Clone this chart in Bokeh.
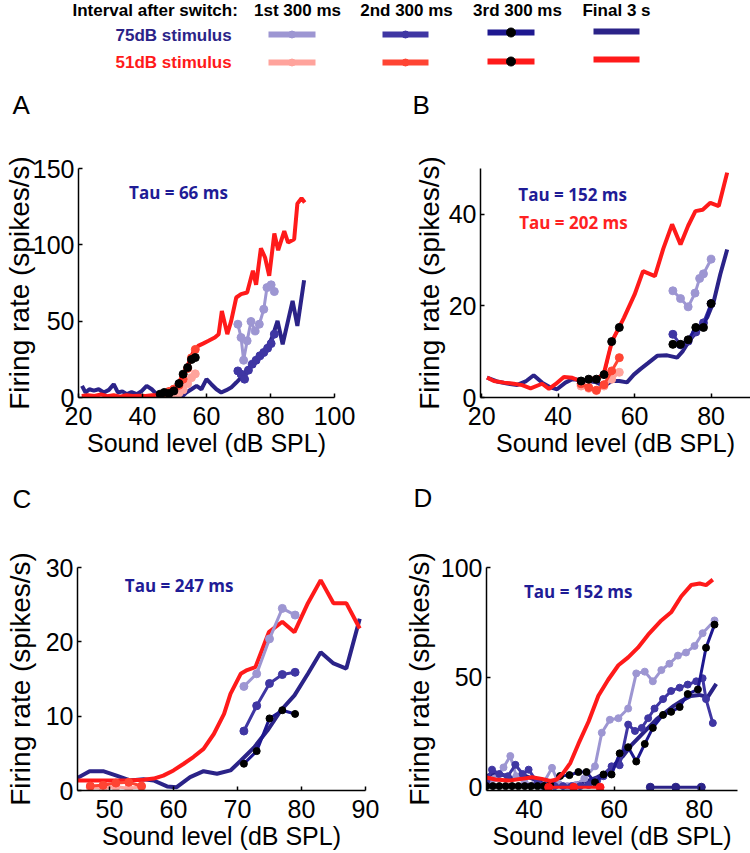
from bokeh.plotting import figure
from bokeh.models import Range1d, Label, FixedTicker
from bokeh.layouts import column, row
from bokeh.embed import file_html
from bokeh.resources import INLINE
from bokeh.core.properties import value

# ---------------- data ----------------
# Panel A
A_x_fin51 = [21, 23, 25, 27, 29, 31, 33, 35, 37, 39, 41, 43, 45, 47, 49, 51, 52.7, 54.3, 55.8, 57.4, 58.9, 60.5,
             62.6, 63.8, 64.8, 66.5, 67.7, 69.3, 70.8, 72.7, 74.5, 75.5, 77.0, 78.3, 79.6, 81.2, 82.4, 84.3, 85.5,
             87.4, 88.4, 89.7, 90.7]
A_y_fin51 = [1.0, 1.5, 1.0, 2.0, 0.8, 1.5, 0.5, 1.5, 1.0, 1.2, 1.0, 1.5, 1.5, 3.0, 4.5, 8.5, 15, 22, 29.5, 33.8,
             35.3, 37, 39.3, 41.5, 56.7, 41.5, 50, 65.5, 67.7, 68.8, 83, 73.8, 97.8, 91.7, 79.7, 107.4, 96.5, 109,
             101.5, 103.7, 127, 130.5, 127.7]
A_x_fin75 = [21.1, 22.2, 23.4, 24.8, 26.3, 27.9, 29.5, 31.0, 32.3, 33.7, 35.1, 36.6, 38.2, 39.8, 41.3, 42.9, 44.4,
             46, 47.5, 49, 50.6, 52.2, 53.7, 55.3, 56.9, 58.4, 60.0, 61.5, 63.1, 64.6, 66.2, 67.7, 69.3, 70.8, 72.9,
             75.0, 77.1, 79.1, 80.7, 82.2, 83.8, 86.9, 88.4, 90.5]
A_y_fin75 = [7.6, 3.3, 5.4, 4.5, 5.4, 3.3, 5.0, 8.7, 3.3, 4.0, 2.2, 3.5, 2.2, 4.3, 7.6, 5.4, 2.2, 1.5, 2.5, 2.0,
             1.0, 0.3, 3.3, 5.4, 7.6, 5.4, 12, 8.7, 5.4, 3.3, 4.8, 6.5, 9.8, 13, 18.5, 24, 28.4, 32.7, 40.4, 50.2,
             34.9, 63.3, 46.9, 76.8]
A_x_1st75 = [69.8, 70.8, 71.6, 72.7, 73.9, 75.2, 76.5, 77.9, 78.9, 80.2, 81.2]
A_y_1st75 = [48, 39.3, 24.4, 37.1, 49.8, 43.6, 48, 57.8, 72, 73.8, 69.4]
A_x_2nd75 = [69.8, 70.8, 71.9, 73.1, 74.3, 75.5, 76.7, 77.9, 79.1, 80.2, 81.2]
A_y_2nd75 = [17.4, 15.3, 12, 17.9, 21.8, 24.4, 27.3, 29.5, 32.3, 35.3, 41.5]
A_x_51 = [45.5, 46.8, 48.3, 49.8, 51.4, 52.7, 54.1, 55.3, 56.5]
A_y_1st51 = [0, 0.5, 1, 1.5, 3, 5, 9, 13, 15.5]
A_y_2nd51 = [1.5, 2.5, 4, 5.5, 8, 12, 19, 26, 31.5]
A_y_3rd51 = [2.2, 3.3, 2.6, 4.3, 9.1, 15.3, 19.6, 24.9, 26.2]

# Panel B
B_x_fin51 = [21.4, 23.2, 25.8, 28.4, 30.6, 32.8, 35.8, 37.6, 39.3, 41.5, 43.7, 45.8, 48.4, 50.6, 51.9, 53.2,
             54.1, 55.9, 57.2, 60.0, 62.2, 65.3, 67.5, 69.8, 72.0, 74.0, 75.9, 77.8, 79.8, 82.0, 84.2]
B_y_fin51 = [4.35, 3.6, 3.25, 3.0, 2.7, 2.0, 3.0, 1.9, 2.9, 4.5, 4.3, 3.6, 4.0, 4.35, 5.0, 9.4, 12.3, 15.25,
             17.4, 22.5, 27.6, 26.5, 32.5, 37.8, 33.4, 37.5, 40.7, 41.0, 42.5, 41.8, 49.1]
B_x_fin75 = [21.4, 24.0, 26.7, 29.3, 31.5, 33.6, 35.8, 38.0, 39.7, 41.9, 43.7, 46, 48, 50, 52, 54, 56, 58, 59.8,
             61.5, 63.5, 65.9, 68.5, 71.1, 72.5, 74.2, 76.3, 79, 80.7, 82.4, 84.2]
B_y_fin75 = [4.35, 3.5, 3.05, 2.75, 3.5, 4.85, 3.25, 2.2, 1.8, 3.25, 4.0, 3.8, 3.6, 3.3, 2.5, 3.6, 3.6, 3.3, 5.0,
             6.2, 7.5, 9.1, 9.2, 8.7, 10, 12.3, 14.5, 17.5, 21, 26.9, 32.3]
B_x_1st75 = [70, 72, 74, 75.8, 77, 78, 80]
B_y_1st75 = [23.3, 21.6, 19.8, 22.8, 26, 27, 30.2]
B_x_75 = [70, 72, 74, 76, 78, 80]
B_y_2nd75 = [13.8, 11.5, 12.3, 14.3, 16.3, 20.5]
B_y_3rd75 = [11.6, 11.6, 12.6, 15.3, 15.3, 20.5]
B_x_51 = [46, 48, 50, 52, 54, 56]
B_y_1st51 = [2.5, 2.0, 1.5, 2.5, 4.0, 5.5]
B_y_2nd51 = [3.0, 2.2, 1.6, 2.8, 5.8, 8.7]
B_y_3rd51 = [3.6, 4.0, 4.0, 5.0, 12.2, 15.3]

# Panel C
C_x_fin51 = [44.8, 47.4, 50, 52.7, 55.3, 56.9, 58.4, 60, 61.6, 63.1, 64.7, 66.3, 67.9, 68.9, 70.5, 71.5, 72.8,
             74.9, 77.0, 78.9, 81.0, 83.0, 85.0, 87.0, 89.1]
C_y_fin51 = [1.35, 1.35, 1.35, 1.35, 1.45, 1.6, 2.0, 2.7, 3.6, 4.5, 5.6, 7.6, 10.3, 13.0, 15.7, 16.2, 16.6, 21.3,
             22.7, 21.3, 25.2, 28.3, 25.2, 25.2, 21.8]
C_x_fin75 = [44.8, 46.9, 49.0, 51.1, 53.2, 55.3, 56.9, 59.0, 60.5, 62.6, 64.7, 66.8, 68.9, 70.5, 72.6, 74.7, 76.8,
             78.9, 81.0, 83.0, 85.0, 87.0, 89.1]
C_y_fin75 = [1.6, 2.6, 2.6, 2.0, 1.35, 1.5, 1.35, 0.55, 0.45, 1.8, 2.6, 2.25, 2.7, 4.0, 5.8, 8.1, 10.8, 12.8, 15.7,
             18.6, 17.1, 16.4, 23.1]
C_x_75 = [71, 73, 75, 77, 79]
C_y_1st75 = [14.0, 15.7, 20.4, 24.5, 23.6]
C_y_2nd75 = [8.0, 11.4, 14.4, 15.6, 15.9]
C_y_3rd75 = [3.6, 5.3, 9.7, 10.8, 10.3]
C_x_51 = [47, 49, 51, 53, 55]
C_y_1st51 = [0.4, 0.3, 0.5, 0.3, 0.5]
C_y_2nd51 = [0.6, 0.7, 1.0, 1.1, 0.6]

# Panel D
D_x_fin51 = [29.8, 32.1, 35.2, 38.3, 40.7, 43.0, 45.0, 46.5, 48.1, 49.7, 51.6, 54.0, 56.3, 58.6, 61.0, 63.3, 65.6,
             68.0, 71.1, 73.4, 75.8, 78.1, 80.1, 81.6, 83.2]
D_y_fin51 = [4.5, 3.5, 3.0, 3.8, 4.5, 3.8, 2.8, 3.5, 6.6, 11.0, 19.7, 29.9, 41.6, 48.9, 55.5, 59.1, 63.5, 69.4,
             75.9, 79.6, 86.9, 92.0, 92.7, 92.0, 94.5]
D_x_fin75 = [30, 32, 34, 36, 38, 40, 42, 44, 46, 48, 50, 52, 54, 56, 58, 60, 62, 64, 66, 68, 70, 72, 74, 76, 78,
             80, 82, 84]
D_y_fin75 = [5, 6.5, 5.5, 4, 6, 4.5, 3, 1.5, 1, 0.5, 1, 2, 3, 4.5, 6.5, 10, 14, 19, 23, 27, 31, 34, 37, 39.5, 41.5,
             42, 41, 47]
D_x_1st75 = [30, 32, 34, 35.6, 37, 39, 41, 43, 45.4, 47, 49, 51, 53, 55.5, 57.1, 59, 61, 63.3, 65.2, 67.2, 69.1,
             71.1, 73, 75, 76.9, 78.9, 80.8, 83.6]
D_y_1st75 = [1, 4, 9, 14.2, 5, 2, 1, 0.5, 8.8, 1.5, 0.5, 1, 4, 9.5, 24.8, 30.7, 31.4, 35.8, 51.8, 52.6, 48.2, 53.3,
             56.2, 59.9, 61.3, 64.3, 70.1, 75.9]
D_x_2nd75 = [30, 31.3, 33, 35, 36.8, 38.5, 39.9, 42, 44, 46, 48, 50, 52, 54, 56, 57.5, 59.4, 61.3, 63.3, 64.9,
             66.5, 68.0, 69.5, 71.5, 73.4, 75.4, 77.3, 79.3, 80.8, 81.6, 83.2]
D_y_2nd75 = [3, 8, 6, 5, 10.2, 6, 8, 2, 1, 0.5, 0.5, 0.5, 0.5, 1, 3, 5, 9.5, 10, 28.5, 25.6, 27, 31.4, 35.8, 40.1,
             43.8, 45.3, 46.7, 48.2, 49.6, 40.1, 29.2]
D_x_3rd75 = [30, 31.5, 33, 34.5, 36, 37.5, 39, 40.5, 42, 43.5, 45, 47.3, 49.5, 51.6, 53.5, 55.5, 57.5, 59.4, 61.3,
             63.3, 65.2, 67.2, 69.1, 71.5, 73.4, 75.4, 77.3, 79.7, 81.6, 83.6]
D_y_3rd75 = [0.5, 0.5, 0.5, 0.5, 0.5, 0.5, 0.5, 0.5, 0.5, 0.5, 1.0, 5.1, 5.5, 6.9, 6.9, 2.2, 5.8, 5.8, 15.4, 18.2,
             11.7, 19.7, 27.0, 32.9, 34.3, 36.5, 42.4, 44.5, 63.5, 74.0]
D_x_zero51 = [44.6, 50.5, 56.7]
D_y_zero51 = [0, 0, 0]
D_x_zero75 = [68.5, 74.5, 80.5]
D_y_zero75 = [0, 0, 0]

# ticks
A_xticks = [20, 40, 60, 80, 100]
A_yticks = [0, 50, 100, 150]
B_xticks = [20, 40, 60, 80]
B_yticks = [0, 20, 40]
C_xticks = [50, 60, 70, 80, 90]
C_yticks = [0, 10, 20, 30]
D_xticks = [40, 60, 80]
D_yticks = [0, 50, 100]

# texts
interval_labels = ["1st 300 ms", "2nd 300 ms", "3rd 300 ms", "Final 3 s"]
stimulus_labels = ["75dB stimulus", "51dB stimulus"]
panel_labels = ["A", "B", "C", "D"]
tau_A = "Tau = 66 ms"
tau_B_blue = "Tau = 152 ms"
tau_B_red = "Tau = 202 ms"
tau_C = "Tau = 247 ms"
tau_D = "Tau = 152 ms"
xlabel = "Sound level (dB SPL)"
ylabel = "Firing rate (spikes/s)"

# ---------------- styles ----------------
NAVY = "#2b2388"
MID = "#3f36a3"
LAV = "#9d96d2"
DARK = "#1e1890"
RED = "#ff1a1a"
RED2 = "#ff4433"
SALMON = "#ffa39c"
TAU_BLUE = "#1f1c96"
TAU_RED = "#ff2222"
FONT = "Liberation Sans"
TAUFONT = "Open Sans"


def blank(width, height, xr, yr):
    s = figure(width=width, height=height, x_range=Range1d(*xr), y_range=Range1d(*yr),
               min_border=0, x_axis_type=None, y_axis_type=None, output_backend="svg",
               toolbar_location=None, title=None)
    s.xgrid.visible = False
    s.ygrid.visible = False
    s.outline_line_color = None
    s.background_fill_color = "white"
    s.border_fill_color = "white"
    return s


def make_panel(w, h, bl, br, bt, bb, xr, yr, xticks, yticks, ylab_standoff):
    p = figure(width=w, height=h, min_border_left=bl, min_border_right=br, min_border_top=bt,
               min_border_bottom=bb, x_range=Range1d(*xr), y_range=Range1d(*yr), title=None,
               output_backend="svg", toolbar_location=None)
    p.xgrid.visible = False
    p.ygrid.visible = False
    p.outline_line_color = None
    p.background_fill_color = "white"
    p.border_fill_color = "white"
    for ax in (p.xaxis[0], p.yaxis[0]):
        ax.axis_line_width = 1.5
        ax.axis_line_color = "black"
        ax.major_tick_in = 4
        ax.major_tick_out = 0
        ax.major_tick_line_width = 1.5
        ax.major_tick_line_color = "black"
        ax.minor_tick_line_color = None
        ax.major_label_text_font = FONT
        ax.major_label_text_font_size = "25px"
        ax.major_label_text_color = "black"
        ax.axis_label_text_font = FONT
        ax.axis_label_text_font_style = "normal"
        ax.axis_label_text_color = "black"
    p.xaxis[0].ticker = FixedTicker(ticks=xticks)
    p.yaxis[0].ticker = FixedTicker(ticks=yticks)
    p.xaxis[0].major_label_standoff = 9
    p.yaxis[0].major_label_standoff = 4
    p.xaxis[0].axis_label = xlabel
    p.xaxis[0].axis_label_text_font_size = "25px"
    p.xaxis[0].axis_label_standoff = 1
    p.yaxis[0].axis_label = ylabel
    p.yaxis[0].axis_label_text_font_size = "28px"
    p.yaxis[0].axis_label_standoff = ylab_standoff
    return p


def final_line(p, x, y, color):
    p.line(x, y, line_color=color, line_width=4)


def dotted(p, x, y, color, mcolor=None, size=8):
    p.line(x, y, line_color=color, line_width=3)
    p.scatter(x, y, size=size, fill_color=mcolor or color, line_color=mcolor or color)


def tau(p, x, y, txt, color):
    p.add_layout(Label(x=x, y=y, text=txt, text_font=TAUFONT, text_font_size="17px",
                       text_font_style="bold", text_baseline="middle", text_align="left",
                       text_color=color))


def letters(s, xs, ys, txts):
    s.text(x=xs, y=ys, text=txts, text_font=value(FONT), text_font_size="26px", text_align="left",
           text_baseline="middle", text_color="black")


# ---------------- header (with panel letters A, B); data y = page pixels ----------------
hdr = blank(750, 120, (0, 750), (120, 0))
hdr.text(x=[72], y=[10], text=["Interval after switch:"], text_font=value(FONT), text_font_style="bold",
         text_font_size="17px", text_align="left", text_baseline="middle", text_color="black")
hdr.text(x=[297, 406, 517, 616], y=[10, 10, 10, 10], text=interval_labels, text_font=value(FONT),
         text_font_style="bold", text_font_size="17px", text_align="center", text_baseline="middle",
         text_color="black")
hdr.text(x=[115], y=[35], text=[stimulus_labels[0]], text_font=value(FONT), text_font_style="bold",
         text_font_size="17px", text_align="left", text_baseline="middle", text_color=NAVY)
hdr.text(x=[115], y=[62], text=[stimulus_labels[1]], text_font=value(FONT), text_font_style="bold",
         text_font_size="17px", text_align="left", text_baseline="middle", text_color=RED)
seg_x0 = [268, 382, 487, 593]
seg_x1 = [315, 428, 534, 639]
row75_y = [34, 34, 32, 31]
row51_y = [62, 62, 61, 59]
col75 = [LAV, MID, DARK, NAVY]
col51 = [SALMON, RED2, RED, RED]
hdr.segment(x0=seg_x0, y0=row75_y, x1=seg_x1, y1=row75_y, line_color=col75, line_width=6)
hdr.segment(x0=seg_x0, y0=row51_y, x1=seg_x1, y1=row51_y, line_color=col51, line_width=6)
mid_x = [(a + b) / 2 for a, b in zip(seg_x0, seg_x1)]
hdr.scatter(x=mid_x[:2], y=row75_y[:2], size=7, fill_color=col75[:2], line_color=col75[:2])
hdr.scatter(x=mid_x[:2], y=row51_y[:2], size=7, fill_color=col51[:2], line_color=col51[:2])
hdr.scatter(x=[mid_x[2], mid_x[2]], y=[row75_y[2], row51_y[2]], size=9, fill_color="black", line_color="black")
letters(hdr, [12, 412], [104, 104], panel_labels[:2])

# ---------------- row 1 (page y 120..470) ----------------
pA = make_panel(400, 350, 78, 66, 48, 73, (20, 100), (0, 150), A_xticks, A_yticks, -5)
final_line(pA, A_x_fin75, A_y_fin75, NAVY)
final_line(pA, A_x_fin51, A_y_fin51, RED)
dotted(pA, A_x_1st75, A_y_1st75, LAV)
dotted(pA, A_x_2nd75, A_y_2nd75, MID)
dotted(pA, A_x_51, A_y_1st51, SALMON)
dotted(pA, A_x_51, A_y_2nd51, RED2)
dotted(pA, A_x_51, A_y_3rd51, RED, "black")
tau(pA, 35.8, 134, tau_A, TAU_BLUE)

pB = make_panel(350, 350, 80, 0, 48, 73, (19.7, 90.3), (0, 50), B_xticks, B_yticks, 1)
final_line(pB, B_x_fin75, B_y_fin75, NAVY)
final_line(pB, B_x_fin51, B_y_fin51, RED)
dotted(pB, B_x_1st75, B_y_1st75, LAV)
dotted(pB, B_x_75, B_y_2nd75, MID)
dotted(pB, B_x_75, B_y_3rd75, DARK, "black")
dotted(pB, B_x_51, B_y_1st51, SALMON)
dotted(pB, B_x_51, B_y_2nd51, RED2)
dotted(pB, B_x_51, B_y_3rd51, RED, "black")
tau(pB, 29.6, 44.4, tau_B_blue, TAU_BLUE)
tau(pB, 29.8, 38.3, tau_B_red, TAU_RED)

# ---------------- strip with letters C, D (page y 470..515) ----------------
mid = blank(750, 45, (0, 750), (515, 470))
letters(mid, [12, 413], [498, 497], panel_labels[2:])

# ---------------- row 2 (page y 515..853) ----------------
pC = make_panel(400, 338, 77, 35, 52, 63, (45, 90), (0, 30), C_xticks, C_yticks, 7)
final_line(pC, C_x_fin75, C_y_fin75, NAVY)
final_line(pC, C_x_fin51, C_y_fin51, RED)
dotted(pC, C_x_75, C_y_1st75, LAV)
dotted(pC, C_x_75, C_y_2nd75, MID)
dotted(pC, C_x_75, C_y_3rd75, DARK, "black", 7)
dotted(pC, C_x_51, C_y_1st51, SALMON)
dotted(pC, C_x_51, C_y_2nd51, RED2)
tau(pC, 52.4, 27.6, tau_C, TAU_BLUE)

pD = make_panel(350, 338, 85, 13, 45, 62, (30, 89), (-1.5, 100), D_xticks, D_yticks, 3)
final_line(pD, D_x_fin75, D_y_fin75, NAVY)
dotted(pD, D_x_1st75, D_y_1st75, LAV, size=7)
dotted(pD, D_x_2nd75, D_y_2nd75, MID, size=7)
dotted(pD, D_x_3rd75, D_y_3rd75, DARK, "black", 7)
final_line(pD, D_x_fin51, D_y_fin51, RED)
dotted(pD, D_x_zero51, D_y_zero51, RED, size=8)
dotted(pD, D_x_zero75, D_y_zero75, NAVY, size=8)
tau(pD, 38.8, 89.0, tau_D, TAU_BLUE)

layout = column(hdr, row(pA, pB), mid, row(pC, pD))
open("out.html", "w").write(file_html(layout, INLINE))
